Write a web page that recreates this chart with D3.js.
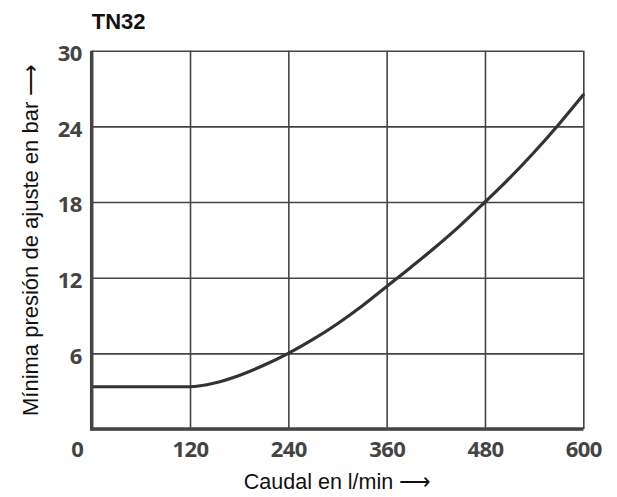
<!DOCTYPE html>
<html>
<head>
<meta charset="utf-8">
<script src="https://cdn.jsdelivr.net/npm/d3@7"></script>
<style>
  body { margin: 0; background: #fff; }
  svg { display: block; }
</style>
</head>
<body>
<div id="chart"></div>
<script>
const flow = [0, 120, 150, 180, 210, 240, 270, 300, 330, 360, 390, 420, 450, 480, 510, 540, 570, 600];
const pressure = [3.35, 3.35, 3.65, 4.25, 5.05, 6.0, 7.1, 8.35, 9.75, 11.3, 12.85, 14.45, 16.15, 18.0, 19.9, 21.95, 24.15, 26.5];
const xTicks = [0, 120, 240, 360, 480, 600];
const yTicks = [0, 6, 12, 18, 24, 30];

const width = 617;
const height = 497;
const margin = { top: 50.7, right: 617 - 583.3, bottom: 497 - 429, left: 91.7 };
const innerWidth = width - margin.left - margin.right;
const innerHeight = height - margin.top - margin.bottom;

const ink = "#444";
const tickFont = "'Open Sans', 'DejaVu Sans', sans-serif";
const labelFont = "'Liberation Sans', Arial, sans-serif";

const svg = d3.select("#chart")
  .append("svg")
  .attr("width", width)
  .attr("height", height)
  .attr("viewBox", `0 0 ${width} ${height}`);

const innerChart = svg.append("g")
  .attr("transform", `translate(${margin.left}, ${margin.top})`);

const xScale = d3.scaleLinear().domain([0, 600]).range([0, innerWidth]);
const yScale = d3.scaleLinear().domain([0, 30]).range([innerHeight, 0]);

// grid (includes top and right border)
innerChart.append("g")
  .attr("transform", `translate(0, ${innerHeight})`)
  .call(d3.axisBottom(xScale).tickValues(xTicks).tickSize(-innerHeight).tickFormat(""))
  .call(g => g.select(".domain").remove())
  .call(g => g.selectAll("text").remove())
  .call(g => g.selectAll("line").attr("stroke", ink).attr("stroke-width", 1.6));

innerChart.append("g")
  .call(d3.axisLeft(yScale).tickValues(yTicks).tickSize(-innerWidth).tickFormat(""))
  .call(g => g.select(".domain").remove())
  .call(g => g.selectAll("text").remove())
  .call(g => g.selectAll("line").attr("stroke", ink).attr("stroke-width", 1.6));

// curve
const line = d3.line()
  .x((d, i) => xScale(flow[i]))
  .y(d => yScale(d))
  .curve(d3.curveMonotoneX);

innerChart.append("path")
  .datum(pressure)
  .attr("fill", "none")
  .attr("stroke", "#333")
  .attr("stroke-width", 3.2)
  .attr("stroke-linecap", "round")
  .attr("d", line);

// thick left and bottom axes
innerChart.append("line")
  .attr("x1", 0).attr("x2", 0)
  .attr("y1", 0).attr("y2", innerHeight + 1.5)
  .attr("stroke", ink).attr("stroke-width", 3.5);
innerChart.append("line")
  .attr("x1", -1.5).attr("x2", innerWidth)
  .attr("y1", innerHeight).attr("y2", innerHeight)
  .attr("stroke", ink).attr("stroke-width", 3.5);

// tick labels
const xAxisGroup = innerChart.append("g")
  .attr("transform", `translate(0, ${innerHeight})`)
  .call(d3.axisBottom(xScale).tickValues(xTicks).tickSize(0).tickPadding(12))
  .call(g => g.select(".domain").remove());
xAxisGroup.selectAll("text")
  .attr("font-family", tickFont)
  .attr("font-weight", "bold")
  .attr("font-size", 22)
  .attr("letter-spacing", -0.6)
  .attr("fill", ink)
  .attr("dx", d => d === 0 ? -15 : 0);

const yAxisGroup = innerChart.append("g")
  .call(d3.axisLeft(yScale).tickValues(yTicks.filter(d => d > 0)).tickSize(0).tickPadding(10))
  .call(g => g.select(".domain").remove());
yAxisGroup.selectAll("text")
  .attr("font-family", tickFont)
  .attr("font-weight", "bold")
  .attr("font-size", 22)
  .attr("letter-spacing", -0.6)
  .attr("fill", ink)
  .attr("dy", "0.45em");

// title
svg.append("text")
  .attr("x", margin.left)
  .attr("y", 29.3)
  .attr("font-family", labelFont)
  .attr("font-weight", "bold")
  .attr("font-size", 22)
  .attr("fill", "#111")
  .text("TN32");

// axis labels
svg.append("text")
  .attr("x", margin.left + innerWidth / 2)
  .attr("y", 489)
  .attr("text-anchor", "middle")
  .attr("font-family", labelFont)
  .attr("font-size", 21.5)
  .attr("fill", "#111")
  .text("Caudal en l/min ⟶");

svg.append("text")
  .attr("transform", "rotate(-90)")
  .attr("x", -(margin.top + innerHeight / 2))
  .attr("y", 38)
  .attr("text-anchor", "middle")
  .attr("font-family", labelFont)
  .attr("font-size", 22)
  .attr("fill", "#111")
  .text("Mínima presión de ajuste en bar ⟶");
</script>
</body>
</html>
